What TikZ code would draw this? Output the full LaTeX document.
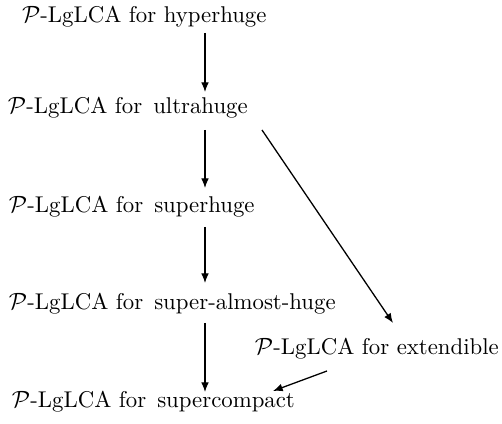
\documentclass[tikz,border=0pt]{standalone}
\usetikzlibrary{arrows.meta}
\begin{document}
\begin{tikzpicture}[x=0.465pt,y=-0.465pt,
  lbl/.style={anchor=base west,inner sep=0pt,outer sep=0pt,font=\fontsize{10.6}{13}\selectfont},
  arr/.style={line width=0.6pt,-{Latex[length=4.5pt,width=3.6pt]}}]
\useasboundingbox (0,0) rectangle (502,424);
\node[lbl] (hyper) at (22,23) {$\mathcal{P}$-LgLCA for hyperhuge};
\node[lbl] (ultra) at (8,114) {$\mathcal{P}$-LgLCA for\hspace{1.6pt} ultrahuge};
\node[lbl] (super) at (9,213) {$\mathcal{P}$-LgLCA for\hspace{1.6pt} superhuge};
\node[lbl] (sah) at (9,310) {$\mathcal{P}$-LgLCA for\hspace{1.6pt} super-almost-huge};
\node[lbl] (ext) at (255,355) {$\mathcal{P}$-LgLCA for extendible};
\node[lbl] (sc) at (12,408) {$\mathcal{P}$-LgLCA for\hspace{1.6pt} supercompact};
\coordinate (a1s) at (205,33); \coordinate (a1e) at (205,92);
\coordinate (a2s) at (205,130); \coordinate (a2e) at (205,188);
\coordinate (a3s) at (205,227); \coordinate (a3e) at (205,283);
\coordinate (a4s) at (205,323); \coordinate (a4e) at (205,392);
\coordinate (d1s) at (262,130); \coordinate (d1e) at (393,323);
\coordinate (d2s) at (327,371); \coordinate (d2e) at (273,391);
\draw[arr] (a1s) -- (a1e);
\draw[arr] (a2s) -- (a2e);
\draw[arr] (a3s) -- (a3e);
\draw[arr] (a4s) -- (a4e);
\draw[arr] (d1s) -- (d1e);
\draw[arr] (d2s) -- (d2e);
\end{tikzpicture}
\end{document}
